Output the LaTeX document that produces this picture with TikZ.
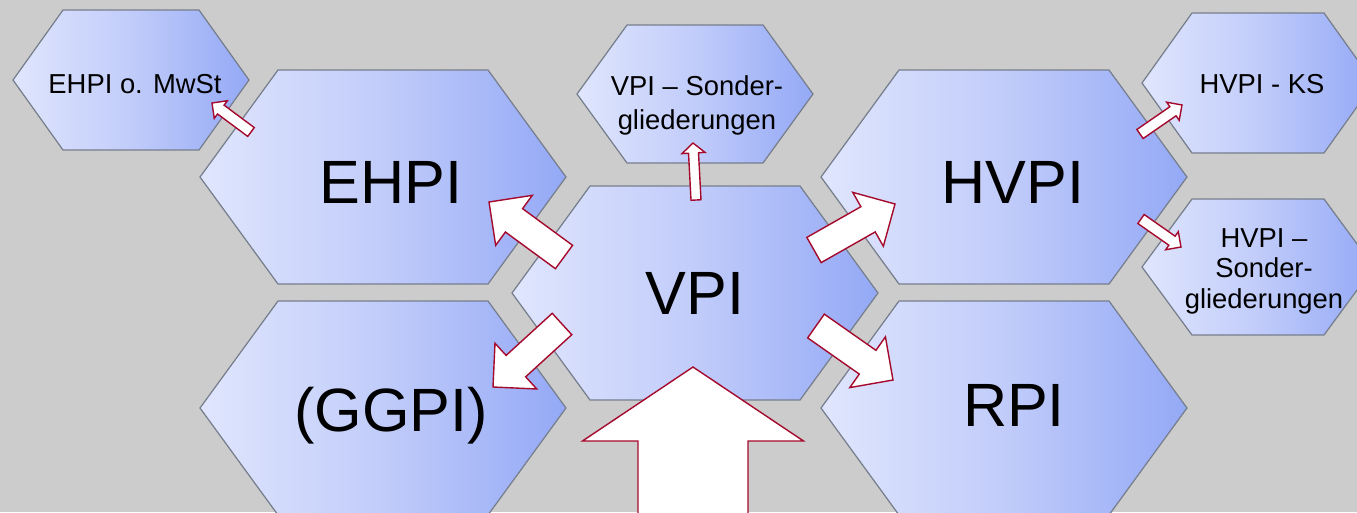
\documentclass[tikz,border=0pt]{standalone}
\usepackage{fontspec}
\setmainfont{Liberation Sans}
\usepackage{tikz}
\usetikzlibrary{calc,positioning}

\definecolor{bggray}{RGB}{204,204,204}
\definecolor{hexleft}{RGB}{224,230,253}
\definecolor{hexmid}{RGB}{193,204,250}
\definecolor{hexright}{RGB}{148,169,246}
\definecolor{hexline}{RGB}{118,126,140}
\definecolor{arrline}{RGB}{165,10,45}

% hexagon round a centre: #1 centre, #2 half width, #3 half height, #4 inset
\newcommand{\hexa}[4]{%
  \path[hexfill] ($(#1)+(-#2,0)$) -- ($(#1)+(-#2+#4,-#3)$) -- ($(#1)+(#2-#4,-#3)$)
    -- ($(#1)+(#2,0)$) -- ($(#1)+(#2-#4,#3)$) -- ($(#1)+(-#2+#4,#3)$) -- cycle;}

% block arrow: #1 tail, #2 tip, #3 half shaft, #4 half head, #5 head length
\newcommand{\blockarrow}[5]{%
  \path ($(#2)!#5!(#1)$) coordinate (ah);
  \draw[blockarr] ($(#1)!#3!90:(#2)$) -- ($(ah)!#3!90:(#2)$) -- ($(ah)!#4!90:(#2)$)
    -- (#2) -- ($(ah)!#4!-90:(#2)$) -- ($(ah)!#3!-90:(#2)$) -- ($(#1)!#3!-90:(#2)$) -- cycle;}

\begin{document}
\begin{tikzpicture}[x=0.02cm,y=-0.02cm]
\tikzstyle{hexfill}=[draw=hexline, line width=0.7pt, left color=hexleft, right color=hexright, middle color=hexmid]
\tikzstyle{big}=[font=\fontsize{34.8}{40}\selectfont, inner sep=0pt]
\tikzstyle{small}=[font=\fontsize{15.6}{19}\selectfont, align=center, inner sep=0pt]
\tikzstyle{blockarr}=[draw=arrline, fill=white, line width=0.8pt, line join=miter]
\useasboundingbox (0,0) rectangle (1357,512);
\fill[bggray] (0,0) rectangle (1357,512);
\clip (0,0) rectangle (1357,512);

\coordinate (cmwst) at (131,80);
\coordinate (cvsg) at (695,94);
\coordinate (cks) at (1258,83);
\coordinate (chsg) at (1258,267);
\coordinate (cehpi) at (383,177);
\coordinate (chvpi) at (1004,177);
\coordinate (cvpi) at (695,293);
\coordinate (cggpi) at (383,408);
\coordinate (crpi) at (1004,408);

\hexa{cmwst}{118}{70}{50}
\hexa{cvsg}{118}{69}{50}
\hexa{cks}{116}{70}{50}
\hexa{chsg}{116}{68}{50}
\hexa{cehpi}{183}{107}{78}
\hexa{chvpi}{183}{107}{78}
\hexa{cvpi}{183}{107}{78}
\hexa{cggpi}{183}{107}{78}
\hexa{crpi}{183}{107}{78}

\node[big] (vpi) at (cvpi) {VPI};
\node[big] (ehpi) at ($(cehpi)+(8,5)$) {EHPI};
\node[big] (hvpi) at ($(chvpi)+(9,5)$) {HVPI};
\node[big] (ggpi) at ($(cggpi)+(8,8)$) {(GGPI)};
\node[big] (rpi) at ($(crpi)+(10,-3)$) {RPI};
\node[small] (mwst) at ($(cmwst)+(4,4)$) {EHPI o. MwSt};
\node[small, font=\fontsize{15.6}{19.4}\selectfont] (vsg) at ($(cvsg)+(2,11)$) {VPI -- Sonder-\\gliederungen};
\node[small] (ks) at ($(cks)+(4,1)$) {HVPI - KS};
\node[small, font=\fontsize{15.6}{17.4}\selectfont] (hsg) at ($(chsg)+(6,4)$) {HVPI --\\Sonder-\\gliederungen};

% arrows out of VPI
\coordinate (t1) at (564,257); \coordinate (p1) at (489,202);
\coordinate (t2) at (814,250); \coordinate (p2) at (895,204);
\coordinate (t3) at (562,324); \coordinate (p3) at (493,387);
\coordinate (t4) at (816,326); \coordinate (p4) at (893,380);
\blockarrow{t1}{p1}{0.29cm}{0.62cm}{0.62cm}
\blockarrow{t2}{p2}{0.29cm}{0.62cm}{0.62cm}
\blockarrow{t3}{p3}{0.29cm}{0.62cm}{0.62cm}
\blockarrow{t4}{p4}{0.29cm}{0.62cm}{0.62cm}

% small arrows
\coordinate (s1) at (251,132); \coordinate (q1) at (212,103);
\coordinate (s2) at (696,200); \coordinate (q2) at (693,143);
\coordinate (s3) at (1140,134); \coordinate (q3) at (1182,105);
\coordinate (s4) at (1141,219); \coordinate (q4) at (1181,247);
\blockarrow{s1}{q1}{0.11cm}{0.22cm}{0.22cm}
\blockarrow{s2}{q2}{0.1cm}{0.23cm}{0.2cm}
\blockarrow{s3}{q3}{0.11cm}{0.22cm}{0.22cm}
\blockarrow{s4}{q4}{0.11cm}{0.22cm}{0.22cm}

% big arrow from below
\coordinate (tb) at (693,540); \coordinate (pb) at (693,367);
\blockarrow{tb}{pb}{1.1cm}{2.21cm}{1.48cm}
\end{tikzpicture}
\end{document}
